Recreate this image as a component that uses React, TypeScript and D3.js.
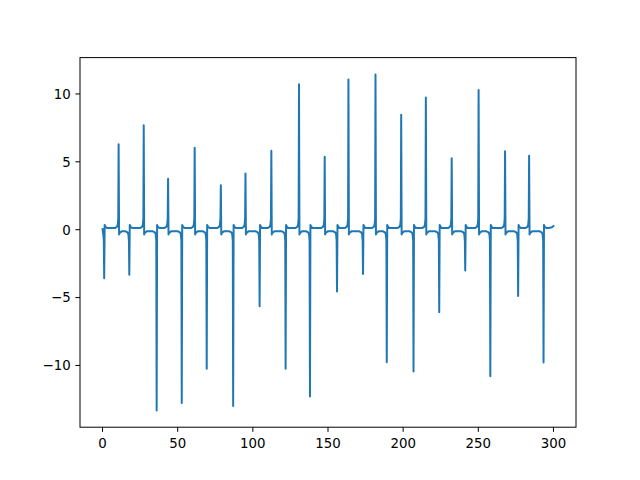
import React from "react";
import * as d3 from "d3";

// Spike positions (x) and peak values (y)
const spikeX = [1.1, 10.7, 17.8, 27.4, 36, 43.6, 52.7, 61.3, 69.3, 78.7, 86.9, 95.1, 104.5, 112.3, 121.8, 130.7, 138, 147.8, 156, 163.6, 173.3, 181.6, 189.1, 198.7, 206.9, 215.1, 224, 232.3, 241.3, 250.2, 258, 267.8, 276.5, 283.8, 293.4];
const spikeY = [-3.58, 6.29, -3.31, 7.69, -13.31, 3.75, -12.77, 6.03, -10.25, 3.28, -12.99, 4.14, -5.64, 5.81, -10.25, 10.71, -12.28, 5.37, -4.56, 11.07, -3.26, 11.44, -9.76, 8.46, -10.44, 9.73, -6.08, 5.27, -3.01, 10.29, -10.79, 5.78, -4.88, 5.44, -9.78];

// Small ripple shape around an upward spike (mirrored for downward ones)
const rampDx = [-2.5, -1.2, -0.6, -0.25];
const rampDy = [0.12, 0.2, 0.35, 0.8];
const settleDx = [0.3, 0.8, 2];
const settleDy = [-0.35, -0.22, -0.12];

// Start and end of the line
const startPoint: [number, number] = [0, 0.05];
const endX = [297, 299, 300];
const endY = [0.13, 0.18, 0.27];

const xTicks = [0, 50, 100, 150, 200, 250, 300];
const yTicks = [-10, -5, 0, 5, 10];

function buildSeries(): [number, number][] {
  const pts: [number, number][] = [startPoint];
  spikeX.forEach((sx, i) => {
    const sy = spikeY[i];
    const s = sy > 0 ? 1 : -1;
    rampDx.forEach((dx, j) => {
      const x = sx + dx;
      if (x > pts[pts.length - 1][0]) pts.push([x, s * rampDy[j]]);
    });
    pts.push([sx, sy]);
    settleDx.forEach((dx, j) => pts.push([sx + dx, s * settleDy[j]]));
  });
  endX.forEach((x, i) => pts.push([x, endY[i]]));
  return pts;
}

export default function App() {
  const W = 640, H = 480;
  const L = 80, R = 576, T = 57.6, B = 427.2;
  const data = buildSeries();
  const [x0, x1] = d3.extent(data, (d) => d[0]) as [number, number];
  const [y0, y1] = d3.extent(data, (d) => d[1]) as [number, number];
  const mx = (x1 - x0) * 0.05, my = (y1 - y0) * 0.05;
  const x = d3.scaleLinear().domain([x0 - mx, x1 + mx]).range([L, R]);
  const y = d3.scaleLinear().domain([y0 - my, y1 + my]).range([B, T]);
  const line = d3.line<[number, number]>().x((d) => x(d[0])).y((d) => y(d[1]));
  const font = "'DejaVu Sans', sans-serif";
  const fmt = (v: number) => (v < 0 ? "\u2212" + Math.abs(v) : String(v));
  return (
    <svg width={W} height={H} style={{ position: "absolute", left: 0, top: 0, background: "#fff" }}>
      <rect x={0} y={0} width={W} height={H} fill="#fff" />
      <defs>
        <clipPath id="plotclip">
          <rect x={L} y={T} width={R - L} height={B - T} />
        </clipPath>
      </defs>
      <path d={line(data) || ""} fill="none" stroke="#1f77b4" strokeWidth={2} strokeLinejoin="round" strokeLinecap="square" clipPath="url(#plotclip)" />
      <rect x={L} y={T} width={R - L} height={B - T} fill="none" stroke="#000" strokeWidth={1} />
      {xTicks.map((t) => (
        <g key={"x" + t}>
          <line x1={x(t)} x2={x(t)} y1={B} y2={B + 4.67} stroke="#000" strokeWidth={1} />
          <text x={x(t)} y={447.5} textAnchor="middle" fontFamily={font} fontSize={13.33} fill="#000">{fmt(t)}</text>
        </g>
      ))}
      {yTicks.map((t) => (
        <g key={"y" + t}>
          <line x1={L - 4.67} x2={L} y1={y(t)} y2={y(t)} stroke="#000" strokeWidth={1} />
          <text x={70.7} y={y(t) + 4.8} textAnchor="end" fontFamily={font} fontSize={13.33} fill="#000">{fmt(t)}</text>
        </g>
      ))}
    </svg>
  );
}
